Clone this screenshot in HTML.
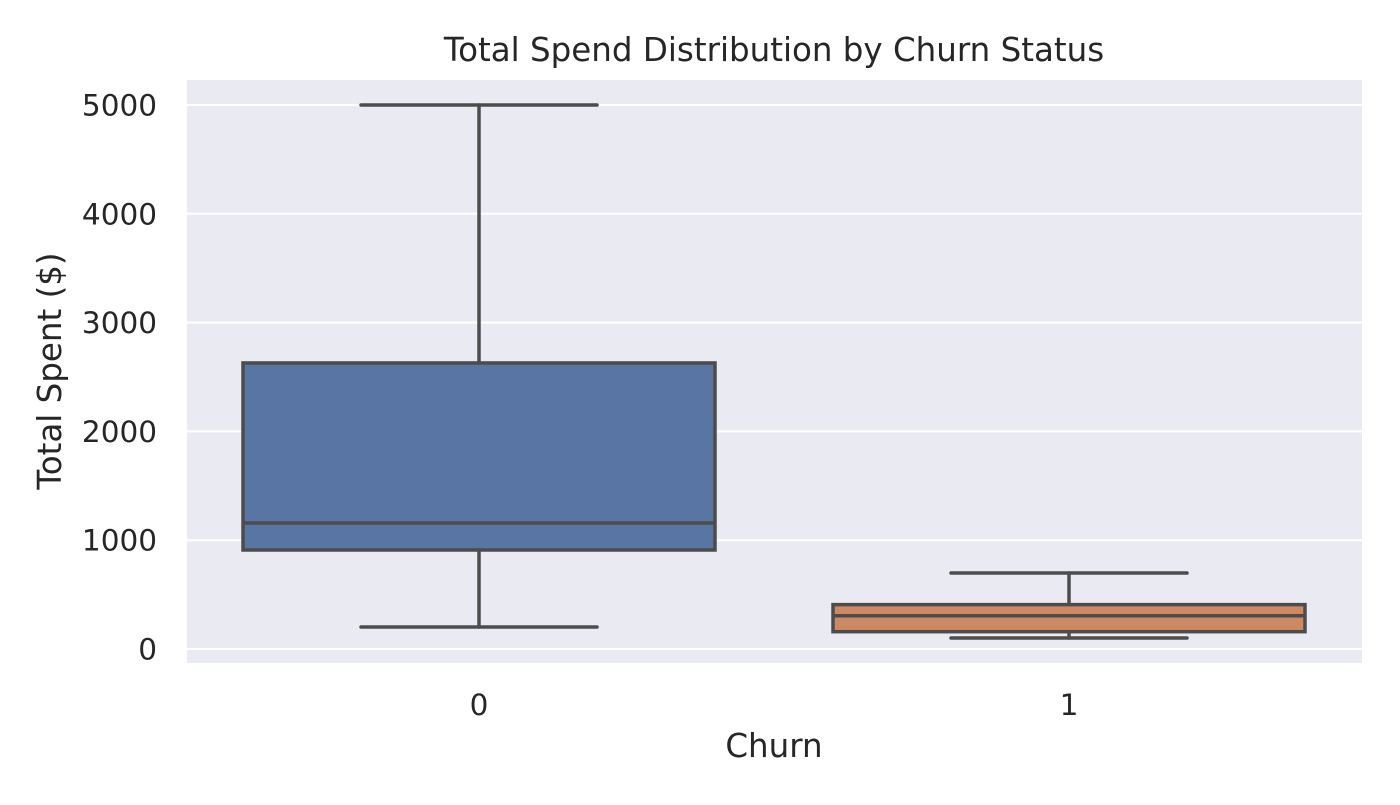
<!DOCTYPE html>
<html><head><meta charset="utf-8"><style>
body{margin:0;background:#fff;}
svg text{font-family:"DejaVu Sans","Liberation Sans",sans-serif;fill:#262626;}
</style></head><body>
<svg id="chart" width="1400" height="800" xmlns="http://www.w3.org/2000/svg">
<rect x="187" y="80" width="1175" height="583" fill="#eaeaf2"/>
<g id="grid"></g><g id="boxes"></g><g id="ticks"></g>
<text x="774" y="61" font-size="32.5" text-anchor="middle">Total Spend Distribution by Churn Status</text>
<text x="774" y="757" font-size="32.5" text-anchor="middle">Churn</text>
<text transform="translate(61,371) rotate(-90)" font-size="32.5" text-anchor="middle">Total Spent ($)</text>
</svg>
<script>
const categories=["0","1"];
const whiskerLow=[202,101];
const q1=[910,159];
const median=[1158,306];
const q3=[2629,408];
const whiskerHigh=[5000,698];
const colors=["#5975a4","#cc8963"];
const yTicks=[0,1000,2000,3000,4000,5000];
const NS="http://www.w3.org/2000/svg";
const y=v=>649-v*0.1088;
const step=590, x0=479;
const x=i=>x0+i*step;
function mk(tag,attrs,parent){const e=document.createElementNS(NS,tag);for(const k in attrs)e.setAttribute(k,attrs[k]);parent.appendChild(e);return e;}
const grid=document.getElementById('grid'),ticks=document.getElementById('ticks'),boxes=document.getElementById('boxes');
yTicks.forEach(t=>{
 const l=mk('line',{x1:187,x2:1362,y1:y(t),y2:y(t),stroke:'#fff','stroke-width':2},grid);
 
 
 const tx=mk('text',{x:157,y:y(t)+10.5,'font-size':29.5,'text-anchor':'end'},ticks);tx.textContent=t;
 
 
});
categories.forEach((c,i)=>{
 const cx=x(i),bw=step*0.8,cw=bw/2;
 const g=mk('g',{},boxes);
 
 
 const s={stroke:'#4c4c4c','stroke-width':3.5,'stroke-linecap':'round'};
 mk('line',Object.assign({x1:cx,x2:cx,y1:y(whiskerHigh[i]),y2:y(q3[i])},s),g);
 mk('line',Object.assign({x1:cx,x2:cx,y1:y(q1[i]),y2:y(whiskerLow[i])},s),g);
 mk('line',Object.assign({x1:cx-cw/2,x2:cx+cw/2,y1:y(whiskerHigh[i]),y2:y(whiskerHigh[i])},s),g);
 mk('line',Object.assign({x1:cx-cw/2,x2:cx+cw/2,y1:y(whiskerLow[i]),y2:y(whiskerLow[i])},s),g);
 mk('rect',{x:cx-bw/2,y:y(q3[i]),width:bw,height:y(q1[i])-y(q3[i]),fill:colors[i],stroke:'#4c4c4c','stroke-width':3.5},g);
 mk('line',{x1:cx-bw/2,x2:cx+bw/2,y1:y(median[i]),y2:y(median[i]),stroke:'#4c4c4c','stroke-width':3.5},g);
 const tx=mk('text',{x:cx,y:715,'font-size':29.5,'text-anchor':'middle'},ticks);tx.textContent=c;
 
 
});
</script>
</body></html>
